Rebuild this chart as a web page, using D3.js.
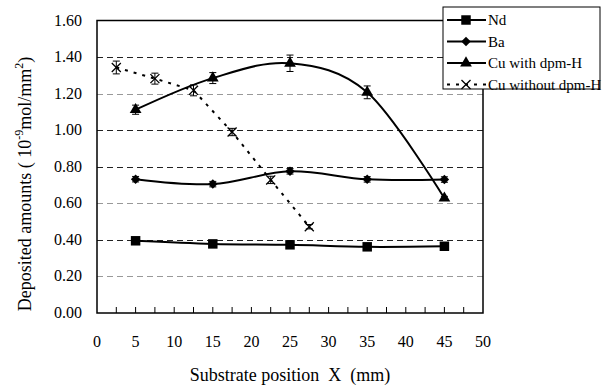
<!DOCTYPE html>
<html>
<head>
<meta charset="utf-8">
<script src="https://cdn.jsdelivr.net/npm/d3@7"></script>
<style>
  body { margin: 0; background: #fff; }
</style>
</head>
<body>
<div id="main"></div>
<script>
// data
const xTicks = [0, 5, 10, 15, 20, 25, 30, 35, 40, 45, 50];
const yTicks = [0, 0.2, 0.4, 0.6, 0.8, 1.0, 1.2, 1.4, 1.6];

const ndX = [5, 15, 25, 35, 45];
const ndY = [0.395, 0.378, 0.373, 0.362, 0.365];

const baX = [5, 15, 25, 35, 45];
const baY = [0.732, 0.705, 0.775, 0.731, 0.73];
const baErr = [0.015, 0.015, 0.015, 0.015, 0.015];

const cuX = [5, 15, 25, 35, 45];
const cuY = [1.112, 1.285, 1.366, 1.207, 0.628];
const cuErr = [0.025, 0.03, 0.045, 0.035, 0.01];

const cuNoX = [2.5, 7.5, 12.5, 17.5, 22.5, 27.5];
const cuNoY = [1.343, 1.282, 1.218, 0.99, 0.728, 0.472];
const cuNoErr = [0.035, 0.03, 0.03, 0.02, 0.02, 0.012];

const legendNames = ['Nd', 'Ba', 'Cu with dpm-H', 'Cu without dpm-H'];

const W = 605, H = 387;
const m = { left: 97, right: 122, top: 20.5, bottom: 74 };
const FONT = 'Liberation Serif';

const svg = d3.select('#main').append('svg')
    .attr('width', W)
    .attr('height', H)
    .style('display', 'block');

const x = d3.scaleLinear().domain([0, 50]).range([m.left, W - m.right]);
const y = d3.scaleLinear().domain([0, 1.6]).range([H - m.bottom, m.top]);

// grid lines
svg.append('g').selectAll('line')
    .data(yTicks.filter(d => d > 0 && d < 1.6))
    .enter().append('line')
    .attr('x1', x(0)).attr('x2', x(50))
    .attr('y1', d => Math.round(y(d)) + 0.5)
    .attr('y2', d => Math.round(y(d)) + 0.5)
    .attr('stroke', (d, i) => [1, 3, 4, 6].indexOf(i) >= 0 ? '#222' : '#999')
    .attr('stroke-width', 1)
    .attr('stroke-dasharray', '6,4');

// frame
svg.append('rect')
    .attr('x', x(0)).attr('y', y(1.6))
    .attr('width', x(50) - x(0)).attr('height', y(0) - y(1.6))
    .attr('fill', 'none').attr('stroke', '#000').attr('stroke-width', 1.5);

// minor ticks on bottom axis
svg.append('g').selectAll('line')
    .data(d3.range(2.5, 50, 2.5))
    .enter().append('line')
    .attr('x1', d => x(d)).attr('x2', d => x(d))
    .attr('y1', y(0)).attr('y2', y(0) - 6)
    .attr('stroke', '#000').attr('stroke-width', 1);

// tick labels
svg.append('g').selectAll('text')
    .data(xTicks)
    .enter().append('text')
    .attr('font-family', FONT)
    .attr('x', d => x(d))
    .attr('y', y(0) + 34)
    .attr('text-anchor', 'middle')
    .attr('font-size', 16)
    .text(d => d);

svg.append('g').selectAll('text')
    .data(yTicks)
    .enter().append('text')
    .attr('font-family', FONT)
    .attr('x', x(0) - 15)
    .attr('y', d => y(d) + 5)
    .attr('text-anchor', 'end')
    .attr('font-size', 16)
    .text(d => d.toFixed(2));

// axis titles
svg.append('text')
    .attr('font-family', FONT)
    .attr('x', 290).attr('y', 381)
    .attr('text-anchor', 'middle')
    .attr('font-size', 18)
    .style('white-space', 'pre')
    .text('Substrate position  X  (mm)');

const yt = svg.append('text')
    .attr('font-family', FONT)
    .attr('transform', 'translate(31,184) rotate(-90)')
    .attr('text-anchor', 'middle')
    .attr('font-size', 18);
yt.append('tspan').text('Deposited amounts ( 10');
yt.append('tspan').attr('dy', -8).attr('font-size', 12).text('-9');
yt.append('tspan').attr('dy', 8).text('mol/mm');
yt.append('tspan').attr('dy', -8).attr('font-size', 12).text('2');
yt.append('tspan').attr('dy', 8).text(')');

// series
const zip = (xs, ys, es) => xs.map((v, i) => ({ x: v, y: ys[i], e: es ? es[i] : 0 }));
const nd = zip(ndX, ndY);
const ba = zip(baX, baY, baErr);
const cu = zip(cuX, cuY, cuErr);
const cuNo = zip(cuNoX, cuNoY, cuNoErr);

const smooth = d3.line().x(d => x(d.x)).y(d => y(d.y)).curve(d3.curveCardinal.tension(0));
const straight = d3.line().x(d => x(d.x)).y(d => y(d.y));

const plot = svg.append('g');

[nd, ba, cu].forEach(s => {
    plot.append('path')
        .attr('d', smooth(s))
        .attr('fill', 'none')
        .attr('stroke', '#000')
        .attr('stroke-width', 2);
});
plot.append('path')
    .attr('d', straight(cuNo))
    .attr('fill', 'none')
    .attr('stroke', '#000')
    .attr('stroke-width', 2)
    .attr('stroke-dasharray', '3,6');

function errorBars(s) {
    const g = plot.append('g');
    s.filter(d => d.e > 0).forEach(d => {
        const cx = x(d.x), y1 = y(d.y + d.e), y2 = y(d.y - d.e);
        g.append('line').attr('x1', cx).attr('x2', cx).attr('y1', y1).attr('y2', y2)
            .attr('stroke', '#000').attr('stroke-width', 1);
        [y1, y2].forEach(yy => g.append('line')
            .attr('x1', cx - 3.5).attr('x2', cx + 3.5).attr('y1', yy).attr('y2', yy)
            .attr('stroke', '#000').attr('stroke-width', 1));
    });
}
errorBars(ba);
errorBars(cu);
errorBars(cuNo);

const symSquare = d3.symbol().type(d3.symbolSquare).size(90);
const symDiamond = d3.symbol().type(d3.symbolSquare).size(45);
const symTriangle = d3.symbol().type(d3.symbolTriangle).size(60);
const symCross = d3.symbol().type(d3.symbolX).size(55);

function markers(s, sym, opts) {
    plot.append('g').selectAll('path')
        .data(s)
        .enter().append('path')
        .attr('transform', d => `translate(${x(d.x)},${y(d.y)})` + (opts.rot ? ' rotate(45)' : ''))
        .attr('d', sym)
        .attr('fill', opts.fill)
        .attr('stroke', opts.stroke || 'none')
        .attr('stroke-width', opts.sw || 0);
}
markers(nd, symSquare, { fill: '#000' });
markers(ba, symDiamond, { fill: '#000', rot: true });
markers(cu, symTriangle, { fill: '#000' });
markers(cuNo, symCross, { fill: 'none', stroke: '#000', sw: 1.3 });

// legend
const lg = svg.append('g').attr('transform', 'translate(443,7)');
lg.append('rect')
    .attr('x', 0).attr('y', 0).attr('width', 157).attr('height', 82)
    .attr('fill', '#fff').attr('stroke', '#000').attr('stroke-width', 1);
const legendSyms = [symSquare, symDiamond, symTriangle, symCross];
legendNames.forEach((name, i) => {
    const yy = 13 + i * 21.5;
    lg.append('line')
        .attr('x1', 4).attr('x2', 43).attr('y1', yy).attr('y2', yy)
        .attr('stroke', '#000').attr('stroke-width', 2)
        .attr('stroke-dasharray', i === 3 ? '3,6' : null);
    lg.append('path')
        .attr('transform', `translate(23,${yy})` + (i === 1 ? ' rotate(45)' : ''))
        .attr('d', legendSyms[i])
        .attr('fill', i === 3 ? 'none' : '#000')
        .attr('stroke', i === 3 ? '#000' : 'none')
        .attr('stroke-width', i === 3 ? 1.3 : 0);
    lg.append('text')
        .attr('font-family', FONT)
        .attr('x', 45).attr('y', yy + 5)
        .attr('font-size', 15)
        .text(name);
});
</script>
</body>
</html>
